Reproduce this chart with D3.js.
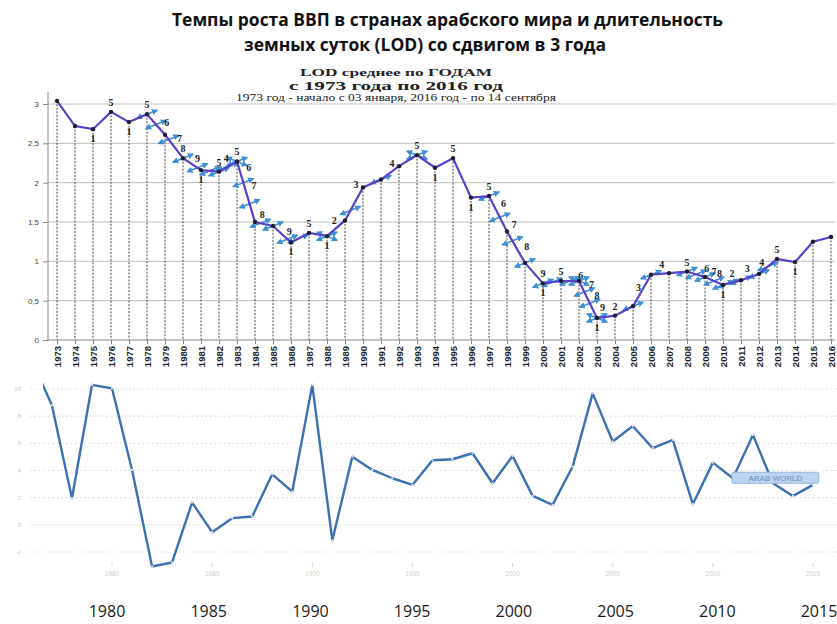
<!DOCTYPE html>
<html>
<head>
<meta charset="utf-8">
<script src="https://cdn.jsdelivr.net/npm/d3@7/dist/d3.min.js"></script>
<style>
  body { margin: 0; background: #fff; }
  svg { display: block; }
</style>
</head>
<body>
<div id="chart"></div>
<script>
var titleLines = ["Темпы роста ВВП в странах арабского мира  и длительность", "земных суток (LOD) со сдвигом в 3 года"];
var lodHeader = ["LOD  среднее   по ГОДАМ", "с 1973 года по 2016 год", "1973 год - начало с 03 января, 2016 год - по 14 сентября"];

var lodYears = [1973, 1974, 1975, 1976, 1977, 1978, 1979, 1980, 1981, 1982, 1983, 1984, 1985, 1986, 1987,
  1988, 1989, 1990, 1991, 1992, 1993, 1994, 1995, 1996, 1997, 1998, 1999, 2000, 2001, 2002, 2003,
  2004, 2005, 2006, 2007, 2008, 2009, 2010, 2011, 2012, 2013, 2014, 2015, 2016];
var lodValues = [3.04, 2.72, 2.68, 2.90, 2.77, 2.87, 2.61, 2.31, 2.16, 2.14, 2.27, 1.50, 1.45, 1.24, 1.36,
  1.32, 1.52, 1.94, 2.04, 2.21, 2.35, 2.19, 2.31, 1.81, 1.83, 1.38, 0.98, 0.72, 0.75, 0.75, 0.28,
  0.31, 0.43, 0.83, 0.85, 0.87, 0.80, 0.70, 0.76, 0.84, 1.03, 0.99, 1.25, 1.31];
var lodTicks = [0, 0.5, 1, 1.5, 2, 2.5, 3];

// digit notes on the LOD line: [year, digit, side]
var lodDigits = [[1975, "1", "b"], [1976, "5", "a"], [1977, "1", "b"], [1978, "5", "a"], [1978.6, "6", "r"],
  [1979.3, "7", "r"], [1980, "8", "a"], [1980.8, "9", "a"], [1981, "1", "b"], [1982, "5", "a"], [1982.4, "4", "a"],
  [1983, "5", "a"], [1983.15, "6", "r"], [1983.45, "7", "r"], [1984.4, "8", "a"], [1985.9, "9", "a"], [1986, "1", "b"],
  [1987, "5", "a"], [1988, "1", "b"], [1988.4, "2", "a"], [1990, "3", "l"], [1992, "4", "l"], [1993, "5", "a"],
  [1994, "1", "b"], [1995, "5", "a"], [1996, "1", "b"], [1997, "5", "a"], [1997.3, "6", "r"], [1997.9, "7", "r"],
  [1998.6, "8", "r"], [2000, "9", "a"], [2000, "1", "b"], [2001, "5", "a"], [2002.1, "6", "a"], [2002.2, "7", "r"],
  [2002.5, "8", "r"], [2002.8, "9", "r"], [2003, "1", "b"], [2004, "2", "a"], [2005.3, "3", "a"], [2006.6, "4", "a"],
  [2008, "5", "a"], [2009.1, "6", "a"], [2009.5, "7", "a"], [2009.8, "8", "a"], [2010, "1", "b"], [2010.5, "2", "a"],
  [2011.35, "3", "a"], [2012.15, "4", "a"], [2013, "5", "a"], [2014, "1", "b"]];
// blue arrow marks: [year, crossed]
var lodMarks = [[1978, 0], [1978.5, 0], [1979.2, 0], [1980, 0], [1980.8, 0], [1981.5, 0], [1982, 0], [1982.5, 0],
  [1983, 1], [1983.35, 0], [1983.7, 0], [1984.3, 0], [1985, 0], [1985.8, 0], [1986.4, 0], [1988, 1], [1989.3, 0],
  [1991, 0], [1993, 1], [1997, 0], [1997.6, 0], [1998.3, 0], [1999, 0], [2000, 0], [2000.5, 0], [2001.5, 0],
  [2002, 1], [2002.3, 0], [2002.6, 0], [2003, 1], [2005, 0], [2006, 0], [2008, 0], [2008.5, 0], [2009, 0],
  [2009.5, 0], [2010, 0], [2010.3, 0], [2011, 0], [2012, 0], [2012.5, 0]];

var gdpYears = [1976, 1977, 1978, 1979, 1980, 1981, 1982, 1983, 1984, 1985, 1986, 1987, 1988, 1989, 1990,
  1991, 1992, 1993, 1994, 1995, 1996, 1997, 1998, 1999, 2000, 2001, 2002, 2003, 2004, 2005, 2006,
  2007, 2008, 2009, 2010, 2011, 2012, 2013, 2014, 2015];
var gdpValues = [12.1, 8.8, 1.96, 10.3, 10.05, 4.04, -3.07, -2.77, 1.64, -0.54, 0.49, 0.61, 3.72, 2.45, 10.3,
  -1.15, 5.02, 4.04, 3.43, 2.94, 4.75, 4.83, 5.27, 3.06, 5.07, 2.13, 1.47, 4.29, 9.68, 6.13, 7.28,
  5.64, 6.25, 1.52, 4.58, 3.43, 6.62, 3.06, 2.13, 2.94];
var gdpTicks = [-2, 0, 2, 4, 6, 8, 10];
var gdpYearTicks = [1980, 1985, 1990, 1995, 2000, 2005, 2010, 2015];
var seriesName = "ARAB WORLD";

var svg = d3.select("#chart").append("svg")
    .attr("width", 837)
    .attr("height", 624);

// titles
svg.selectAll(".title")
    .data(titleLines)
  .enter().append("text")
    .attr("class", "title")
    .attr("x", (d, i) => i ? 244 : 172)
    .attr("y", (d, i) => i ? 51 : 26)
    .attr("textLength", (d, i) => i ? 362 : 551)
    .attr("lengthAdjust", "spacingAndGlyphs")
    .style("font-family", "'Open Sans', sans-serif")
    .style("font-weight", "bold")
    .style("font-size", "18px")
    .style("fill", "#111")
    .text(d => d);

svg.selectAll(".header")
    .data(lodHeader)
  .enter().append("text")
    .attr("class", "header")
    .attr("x", 396)
    .attr("y", (d, i) => [76, 89.5, 100.5][i])
    .attr("text-anchor", "middle")
    .attr("textLength", (d, i) => [192, 214, 320][i])
    .attr("lengthAdjust", "spacingAndGlyphs")
    .style("font-family", "'Liberation Serif', serif")
    .style("font-weight", (d, i) => i < 2 ? "bold" : "normal")
    .style("font-size", (d, i) => [10.5, 13, 9.5][i] + "px")
    .style("fill", "#222")
    .text(d => d);

// ---- top chart: LOD
var x = d3.scaleLinear().domain([1973, 2016]).range([57, 831]);
var y = d3.scaleLinear().domain([0, 3]).range([340, 104]);
var lod = lodYears.map((d, i) => ({year: d, value: lodValues[i]}));

function lodAt(year) {
  var i = Math.min(d3.bisectRight(lodYears, year) - 1, lodYears.length - 2);
  var t = year - lodYears[i];
  return lodValues[i] + (lodValues[i + 1] - lodValues[i]) * t;
}

var topG = svg.append("g");

topG.selectAll(".grid")
    .data(lodTicks.filter(d => d > 0))
  .enter().append("line")
    .attr("x1", 48).attr("x2", 835)
    .attr("y1", d => y(d)).attr("y2", d => y(d))
    .attr("stroke", "#bdbdbd")
    .attr("stroke-width", 1);

topG.selectAll(".drop")
    .data(lod)
  .enter().append("line")
    .attr("x1", d => x(d.year)).attr("x2", d => x(d.year))
    .attr("y1", d => y(d.value)).attr("y2", y(0))
    .attr("stroke", "#333")
    .attr("stroke-width", 0.9)
    .attr("stroke-dasharray", "2,1.5");

var yAxis = d3.axisLeft(y)
    .tickValues(lodTicks)
    .tickSize(5)
    .tickFormat(d => String(d).replace(".", ","));

topG.append("g")
    .attr("transform", "translate(48,0)")
    .call(yAxis)
    .call(g => g.select(".domain").remove())
    .call(g => g.selectAll("line").attr("stroke", "#888"))
    .call(g => g.selectAll("text").attr("fill", "#444").style("font-size", "8px").attr("x", -9));

topG.append("line")
    .attr("x1", 48).attr("x2", 48)
    .attr("y1", 92).attr("y2", y(0))
    .attr("stroke", "#888");

var xAxis = d3.axisBottom(x)
    .tickValues(lodYears)
    .tickSize(4)
    .tickFormat(d3.format("d"));

topG.append("g")
    .attr("transform", `translate(0,${y(0)})`)
    .call(xAxis)
    .call(g => g.select(".domain").attr("d", "M48,0H835").attr("stroke", "#888"))
    .call(g => g.selectAll("line").attr("stroke", "#888"))
    .call(g => g.selectAll("text")
      .attr("transform", "rotate(-90)")
      .attr("x", -6)
      .attr("y", 0)
      .attr("dy", "0.35em")
      .style("text-anchor", "end")
      .style("font-family", "'Liberation Sans Narrow', 'Liberation Sans', sans-serif")
      .style("font-weight", "bold")
      .style("font-size", "9.5px")
      .attr("fill", "#222"));

// blue double arrows
var defs = svg.append("defs");
defs.append("marker")
    .attr("id", "arr")
    .attr("viewBox", "0 0 10 10")
    .attr("refX", 8).attr("refY", 5)
    .attr("markerWidth", 4).attr("markerHeight", 4)
    .attr("orient", "auto-start-reverse")
  .append("path")
    .attr("d", "M0,0L10,5L0,10z")
    .attr("fill", "#3d8fd6");

var marks = topG.selectAll(".mark")
    .data(lodMarks)
  .enter().append("g")
    .attr("transform", d => `translate(${x(d[0])},${y(lodAt(d[0]))})`);

marks.append("line")
    .attr("x1", -10).attr("y1", 4).attr("x2", 10).attr("y2", -4)
    .attr("stroke", "#3d8fd6").attr("stroke-width", 1.6)
    .attr("marker-start", "url(#arr)").attr("marker-end", "url(#arr)");

marks.filter(d => d[1]).append("line")
    .attr("x1", -10).attr("y1", -4).attr("x2", 10).attr("y2", 4)
    .attr("stroke", "#3d8fd6").attr("stroke-width", 1.6)
    .attr("marker-start", "url(#arr)").attr("marker-end", "url(#arr)");

var line = d3.line()
    .x(d => x(d.year))
    .y(d => y(d.value));

topG.append("path")
    .datum(lod)
    .attr("d", line)
    .attr("fill", "none")
    .attr("stroke", "#5a3fc9")
    .attr("stroke-width", 2.2);

topG.selectAll(".dot")
    .data(lod)
  .enter().append("circle")
    .attr("cx", d => x(d.year))
    .attr("cy", d => y(d.value))
    .attr("r", 2.2)
    .attr("fill", "#1e1e2e");

var offs = {a: [0, -6], b: [0, 13], r: [9, 0], l: [-7, 1]};
topG.selectAll(".digit")
    .data(lodDigits)
  .enter().append("text")
    .attr("x", d => x(d[0]) + offs[d[2]][0])
    .attr("y", d => y(lodAt(d[0])) + offs[d[2]][1])
    .attr("text-anchor", "middle")
    .style("font-family", "'Liberation Serif', serif")
    .style("font-weight", "bold")
    .style("font-size", "10px")
    .style("fill", "#222")
    .text(d => d[1]);

// ---- bottom chart: GDP growth
var gx = d3.scaleLinear().domain([1980, 2015]).range([112, 813]);
var gy = d3.scaleLinear().domain([-2, 10]).range([552, 389]);
var bx = d3.scaleLinear().domain([1980, 2015]).range([107, 819]);
var gdp = gdpYears.map((d, i) => ({year: d, value: gdpValues[i]}));

var bottom = svg.append("g");

bottom.selectAll(".ggrid")
    .data(gdpTicks)
  .enter().append("line")
    .attr("x1", 30).attr("x2", 837)
    .attr("y1", d => gy(d)).attr("y2", d => gy(d))
    .attr("stroke", d => d === 0 ? "#ececec" : "#dadada")
    .attr("stroke-width", d => d === 0 ? 1 : 1.2)
    .attr("stroke-dasharray", d => d === 0 ? null : "1.5,3");

bottom.selectAll(".glabel")
    .data(gdpTicks)
  .enter().append("text")
    .attr("x", 21)
    .attr("y", d => gy(d) + 2)
    .attr("text-anchor", "end")
    .style("font-family", "'Liberation Sans', sans-serif")
    .style("font-size", "6px")
    .style("fill", "#c4c4c4")
    .text(d => d);

bottom.selectAll(".gtick")
    .data(gdpYearTicks)
  .enter().append("line")
    .attr("x1", d => gx(d)).attr("x2", d => gx(d))
    .attr("y1", 563).attr("y2", 567)
    .attr("stroke", "#d8d8d8");

bottom.selectAll(".gyear")
    .data(gdpYearTicks)
  .enter().append("text")
    .attr("x", d => gx(d))
    .attr("y", 576)
    .attr("text-anchor", "middle")
    .style("font-family", "'Liberation Sans', sans-serif")
    .style("font-size", "6.5px")
    .style("fill", "#cfcfcf")
    .text(d => d);

defs.append("clipPath")
    .attr("id", "gclip")
  .append("rect")
    .attr("x", 43).attr("y", 370)
    .attr("width", 794).attr("height", 220);

var gline = d3.line()
    .x(d => gx(d.year))
    .y(d => gy(d.value));

bottom.append("path")
    .datum(gdp)
    .attr("clip-path", "url(#gclip)")
    .attr("d", gline)
    .attr("fill", "none")
    .attr("stroke", "#3b70b3")
    .attr("stroke-width", 2.4)
    .attr("stroke-linejoin", "round");

bottom.selectAll(".gdot")
    .data(gdp.filter(d => d.year > 1976))
  .enter().append("circle")
    .attr("cx", d => gx(d.year))
    .attr("cy", d => gy(d.value))
    .attr("r", 1.1)
    .attr("fill", "#e4ecf6");

// tooltip label
var tip = gdp.find(d => d.year === 2011);
var tipG = bottom.append("g")
    .attr("transform", `translate(${gx(tip.year) - 1},${gy(tip.value)})`);
tipG.append("rect")
    .attr("x", 0).attr("y", -6)
    .attr("width", 87).attr("height", 11)
    .attr("rx", 1.5)
    .attr("fill", "#bcd4ec")
    .attr("stroke", "#93b8df");
tipG.append("text")
    .attr("x", 43.5).attr("y", 3)
    .attr("text-anchor", "middle")
    .style("font-family", "'Liberation Sans', sans-serif")
    .style("font-size", "8px")
    .style("fill", "#5f8dc4")
    .text(seriesName);

bottom.selectAll(".byear")
    .data(gdpYearTicks)
  .enter().append("text")
    .attr("x", d => bx(d))
    .attr("y", 617)
    .attr("text-anchor", "middle")
    .style("font-family", "'Open Sans', sans-serif")
    .style("font-size", "16px")
    .style("fill", "#1a1a1a")
    .text(d => d);
</script>
</body>
</html>
